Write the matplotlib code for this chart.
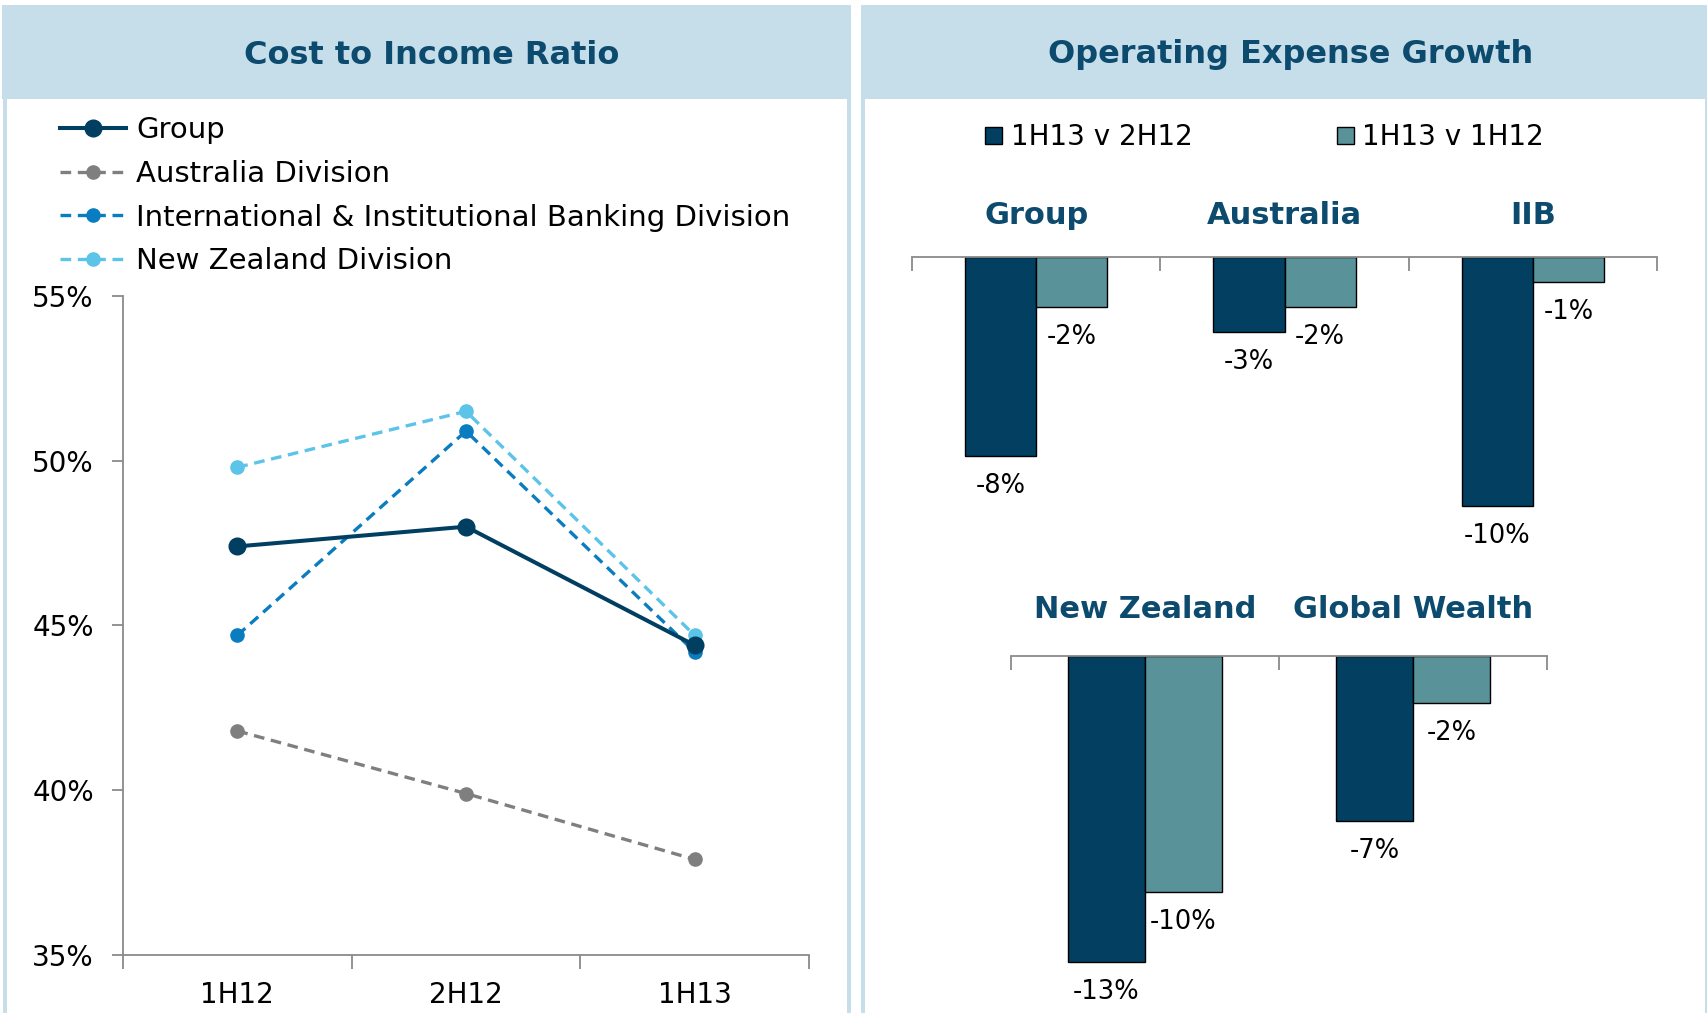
import matplotlib
matplotlib.use('Agg')
import matplotlib.pyplot as plt
from matplotlib.patches import Rectangle
import numpy as np

# ---------------- data ----------------
periods = ['1H12', '2H12', '1H13']
group_cir = [47.4, 48.0, 44.4]
australia_cir = [41.8, 39.9, 37.9]
iib_cir = [44.7, 50.9, 44.2]
nz_cir = [49.8, 51.5, 44.7]
series_names = ['Group', 'Australia Division',
                'International & Institutional Banking Division',
                'New Zealand Division']
y_ticks = [35, 40, 45, 50, 55]

top_divisions = ['Group', 'Australia', 'IIB']
top_vs_2h12 = [-8, -3, -10]
top_vs_1h12 = [-2, -2, -1]
bottom_divisions = ['New Zealand', 'Global Wealth']
bottom_vs_2h12 = [-13, -7]
bottom_vs_1h12 = [-10, -2]
bar_series = ['1H13 v 2H12', '1H13 v 1H12']

# ---------------- style ----------------
W, H, DPI = 1707, 1013, 100
HEADER = '#C6DEEA'
TITLE = '#0C4A6E'
AXIS = '#8A8A8A'
C_GROUP = '#003F62'
C_AUS = '#7F7F7F'
C_IIB = '#0A7DC0'
C_NZ = '#5CC3E9'
C_DARK = '#023F61'
C_TEAL = '#5A9299'
PT = 72 / DPI  # points per pixel

fig = plt.figure(figsize=(W / DPI, H / DPI), dpi=DPI)
fig.patch.set_facecolor('white')


def fx(x):
    return x / W


def fy(y):
    return 1 - y / H


def add_ax(x0, y0, x1, y1):
    return fig.add_axes([x0 / W, 1 - y1 / H, (x1 - x0) / W, (y1 - y0) / H])


def rect(x0, y0, x1, y1, color):
    fig.add_artist(Rectangle((fx(x0), fy(y1)), (x1 - x0) / W, (y1 - y0) / H,
                             transform=fig.transFigure, facecolor=color,
                             edgecolor='none', zorder=0))


# panels
rect(2, 5, 851, 99, HEADER)
rect(3, 99, 7, H, HEADER)
rect(847, 99, 851, H, HEADER)
rect(861, 5, W, 99, HEADER)
rect(861, 99, 865, H, HEADER)
rect(1705, 99, W, H, HEADER)

fig.text(fx(432), fy(55), 'Cost to Income Ratio', ha='center', va='center',
         fontsize=23, weight='bold', color=TITLE)
fig.text(fx(1291), fy(55), 'Operating Expense Growth', ha='center', va='center',
         fontsize=23, weight='bold', color=TITLE)

# ---------------- line chart ----------------
ax = add_ax(123, 296, 809, 955)
x = np.arange(len(periods))
dash = (0, (3.2, 2))
l1, = ax.plot(x, group_cir, color=C_GROUP, lw=2.9, marker='o', ms=12, zorder=5)
l2, = ax.plot(x, australia_cir, color=C_AUS, lw=2.4, ls=dash, marker='o', ms=9.5)
l3, = ax.plot(x, iib_cir, color=C_IIB, lw=2.4, ls=dash, marker='o', ms=9.5)
l4, = ax.plot(x, nz_cir, color=C_NZ, lw=2.4, ls=dash, marker='o', ms=9.5)
for ln in (l1, l2, l3, l4):
    ln.set_clip_on(False)

ax.set_xlim(-0.5, len(periods) - 0.5)
ax.set_ylim(y_ticks[0], y_ticks[-1])
ax.set_yticks(y_ticks)
ax.set_yticklabels([f'{t}%' for t in y_ticks])
ax.set_xticks(np.arange(len(periods) + 1) - 0.5)
ax.set_xticklabels([])
ax.set_xticks(x, minor=True)
ax.set_xticklabels(periods, minor=True)
for s in ('top', 'right'):
    ax.spines[s].set_visible(False)
for s in ('left', 'bottom'):
    ax.spines[s].set_color(AXIS)
    ax.spines[s].set_linewidth(1.3)
ax.tick_params(axis='y', length=8, width=1.3, color=AXIS, pad=13, labelsize=20)
ax.tick_params(axis='x', which='major', length=10, width=1.3, color=AXIS)
ax.tick_params(axis='x', which='minor', length=0, pad=19, labelsize=20)

fig.legend([l1, l2, l3, l4], series_names, loc='upper left',
           bbox_to_anchor=(fx(60), fy(116)), frameon=False, fontsize=21,
           handlelength=2.25, handletextpad=0.36, labelspacing=0.54,
           borderpad=0, borderaxespad=0)


# ---------------- bar charts ----------------
def bar_panel(x0, x1, y_axis, px_per_pct, ymin, names, v1, v2, label_off):
    a = add_ax(x0, y_axis, x1, y_axis + (-ymin) * px_per_pct)
    n = len(names)
    xs = np.arange(n)
    w = 0.287
    b1 = a.bar(xs - w / 2, v1, w, color=C_DARK, edgecolor='black', lw=1)
    b2 = a.bar(xs + w / 2, v2, w, color=C_TEAL, edgecolor='black', lw=1)
    a.set_xlim(-0.5, n - 0.5)
    a.set_ylim(ymin, 0)
    for s in ('left', 'right', 'bottom'):
        a.spines[s].set_visible(False)
    a.spines['top'].set_color(AXIS)
    a.spines['top'].set_linewidth(1.3)
    a.set_yticks([])
    a.xaxis.tick_top()
    a.set_xticks(np.arange(n + 1) - 0.5)
    a.set_xticklabels([])
    a.tick_params(axis='x', direction='in', length=10, width=1.3, color=AXIS)
    for bars, vals in ((b1, v1), (b2, v2)):
        for bar, v in zip(bars, vals):
            a.annotate(f'{v}%', (bar.get_x() + bar.get_width() / 2, v),
                       xytext=(0, -30 * PT), textcoords='offset points',
                       ha='center', va='center', fontsize=18.5,
                       annotation_clip=False)
    for i, nm in enumerate(names):
        a.annotate(nm, (i, 0), xytext=(0, label_off * PT), textcoords='offset points',
                   ha='center', va='center', fontsize=22, weight='bold',
                   color=TITLE, annotation_clip=False)
    return a, b1, b2


ax_t, bt1, bt2 = bar_panel(912, 1657, 257, 24.9, -12, top_divisions,
                           top_vs_2h12, top_vs_1h12, 42)
ax_b, _, _ = bar_panel(1011, 1547, 656, 23.55, -14, bottom_divisions,
                       bottom_vs_2h12, bottom_vs_1h12, 47)

fig.legend([bt1, bt2], bar_series, loc='upper left',
           bbox_to_anchor=(fx(985), fy(123)), ncol=2, frameon=False,
           fontsize=20, handlelength=0.62, handleheight=0.55,
           handletextpad=0.3, columnspacing=5.2, borderpad=0, borderaxespad=0)

fig.savefig('out.png', dpi=DPI, facecolor='white')
